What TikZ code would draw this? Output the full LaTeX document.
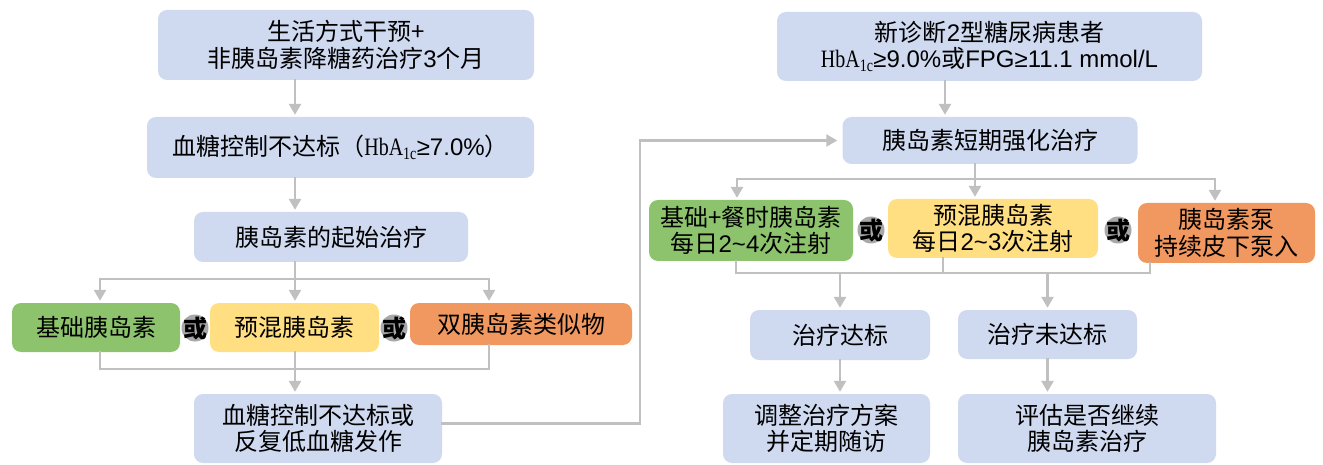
\documentclass[tikz,border=0pt]{standalone}
\usepackage{fontspec}
\setmainfont{Noto Sans CJK SC}
\newfontfamily\hbfont{Liberation Serif}
\newfontfamily\latfont{Liberation Sans}
\usetikzlibrary{arrows.meta}

\definecolor{boxblue}{HTML}{CFDAF0}
\definecolor{boxgreen}{HTML}{8DC36C}
\definecolor{boxyellow}{HTML}{FFDF82}
\definecolor{boxorange}{HTML}{F0985F}
\definecolor{linegray}{HTML}{C0C0C0}
\definecolor{orgray}{HTML}{A8A8A8}

\newcommand{\hba}{{\hbfont\scalebox{0.8}[1]{\fontsize{25}{25}\selectfont HbA\textsubscript{1c}}}}

\begin{document}
\begin{tikzpicture}[x=1pt,y=-1pt,
    box/.style={rounded corners=9pt, inner sep=0pt, align=center,
        font=\fontsize{24}{26.5}\selectfont},
    bluebox/.style={box, fill=boxblue},
    greenbox/.style={box, fill=boxgreen},
    yellowbox/.style={box, fill=boxyellow},
    orangebox/.style={box, fill=boxorange},
    ln/.style={draw=linegray, line width=2.6pt, line cap=rect},
    arr/.style={ln, -{Triangle[width=12pt,length=11pt]}, shorten >=2pt},
    orsign/.style={circle, fill=orgray, inner sep=0pt, minimum size=27pt,
        label={center:{\bfseries\fontsize{24}{24}\selectfont 或}}}]
    \useasboundingbox (0,0) rectangle (1323,465);

    % Left column
    \node[bluebox, minimum width=376, minimum height=70] (life) at (346,45) {生活方式干预+\\非胰岛素降糖药治疗{\latfont 3}个月};
    \node[bluebox, minimum width=387, minimum height=61] (fail1) at (340.5,147.5) {血糖控制不达标（\hba{\latfont ≥7.0\%}）};
    \node[bluebox, minimum width=274, minimum height=50] (start) at (331,237) {胰岛素的起始治疗};
    \node[greenbox, minimum width=168, minimum height=49] (basal) at (96,327.5) {基础胰岛素};
    \node[yellowbox, minimum width=169, minimum height=49] (premixL) at (294.5,327.5) {预混胰岛素};
    \node[orangebox, minimum width=222, minimum height=42] (dual) at (521,324) {双胰岛素类似物};
    \node[bluebox, minimum width=248, minimum height=69] (fail2) at (318,428.5) {血糖控制不达标或\\反复低血糖发作};
    \node[orsign] (orL1) at (195,328) {};
    \node[orsign] (orL2) at (394,328) {};

    % Right column
    \node[bluebox, minimum width=425, minimum height=69] (newdx) at (989.5,46.5) {新诊断{\latfont 2}型糖尿病患者\\\hba{\latfont ≥9.0\%}或{\latfont FPG≥11.1 mmol/L}};
    \node[bluebox, minimum width=295, minimum height=47] (intens) at (990,140.5) {胰岛素短期强化治疗};
    \node[greenbox, minimum width=204, minimum height=61] (basbol) at (751,230.5) {基础+餐时胰岛素\\每日{\latfont 2\textasciitilde4}次注射};
    \node[yellowbox, minimum width=210, minimum height=59] (premixR) at (993,228.5) {预混胰岛素\\每日{\latfont 2\textasciitilde3}次注射};
    \node[orangebox, minimum width=177, minimum height=60] (pump) at (1226.5,233) {胰岛素泵\\持续皮下泵入};
    \node[orsign] (orR1) at (871,230) {};
    \node[orsign] (orR2) at (1118,230) {};
    \node[bluebox, minimum width=180, minimum height=50] (ok) at (840,335) {治疗达标};
    \node[bluebox, minimum width=179, minimum height=49] (notok) at (1047.5,334.5) {治疗未达标};
    \node[bluebox, minimum width=207, minimum height=69] (adjust) at (826.5,428.5) {调整治疗方案\\并定期随访};
    \node[bluebox, minimum width=258, minimum height=69] (assess) at (1087,428.5) {评估是否继续\\胰岛素治疗};

    % Left connectors
    \coordinate (spL) at (295,0);
    \draw[arr] (life.south -| spL) -- (fail1.north -| spL);
    \draw[arr] (fail1.south -| spL) -- (start.north -| spL);
    \coordinate (bl1) at (100,279);
    \coordinate (bl2) at (295,279);
    \coordinate (bl3) at (489,279);
    \draw[ln] (start.south -| bl2) -- (bl2);
    \draw[ln] (bl1) -- (bl3);
    \foreach \c/\n in {bl1/basal, bl2/premixL, bl3/dual}
        \draw[arr] (\c) -- (\c |- \n.north);
    \coordinate (ml1) at (100,369);
    \coordinate (ml2) at (295,369);
    \coordinate (ml3) at (489,369);
    \draw[ln] (ml1 |- basal.south) -- (ml1) -- (ml3) -- (ml3 |- dual.south);
    \draw[ln] (ml2 |- premixL.south) -- (ml2);
    \draw[arr] (ml2) -- (ml2 |- fail2.north);

    % Back to the intensive therapy
    \coordinate (loop) at (640,0);
    \draw[arr, shorten >=5pt] ([yshift=5pt]fail2.east) -| (intens.west -| loop) -- (intens.west);

    % Right connectors
    \coordinate (spR) at (945,0);
    \draw[arr] (newdx.south -| spR) -- (intens.north -| spR);
    \coordinate (rb1) at (737,179);
    \coordinate (rb2) at (975,179);
    \coordinate (rb3) at (1215,179);
    \draw[ln] (intens.south -| rb2) -- (rb2);
    \draw[ln] (rb1) -- (rb3);
    \foreach \c/\n in {rb1/basbol, rb2/premixR, rb3/pump}
        \draw[arr] (\c) -- (\c |- \n.north);
    \coordinate (rm1) at (736,273);
    \coordinate (rm2) at (943,273);
    \coordinate (rm3) at (1150,273);
    \draw[ln] (rm1 |- basbol.south) -- (rm1) -- (rm3) -- (rm3 |- pump.south);
    \draw[ln] (rm2 |- premixR.south) -- (rm2);
    \draw[arr] (rm1 -| ok.north) -- (ok.north);
    \draw[arr] (rm1 -| notok.north) -- (notok.north);
    \draw[arr] (ok.south) -- (ok.south |- adjust.north);
    \draw[arr] (notok.south) -- (notok.south |- assess.north);
\end{tikzpicture}
\end{document}
